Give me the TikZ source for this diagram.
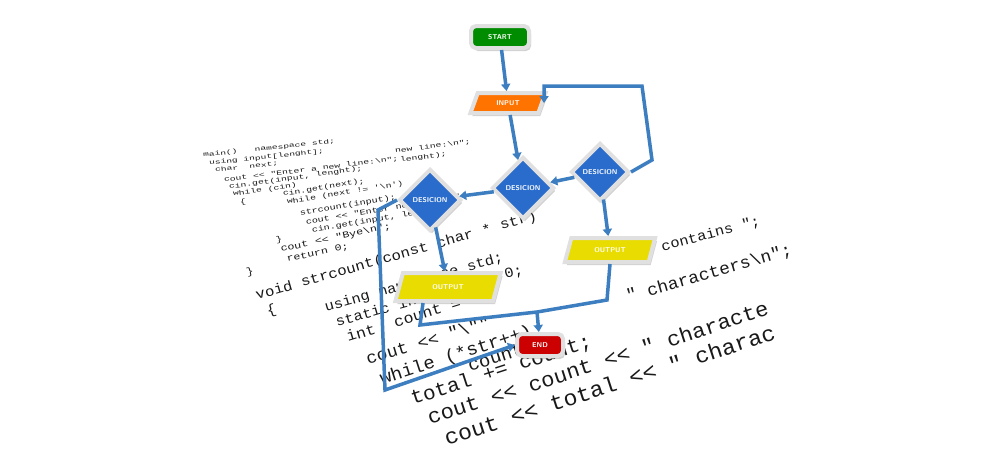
\documentclass[tikz,border=0pt]{standalone}
\usepackage{fontspec}
\setmainfont{Liberation Sans}
\setmonofont{Liberation Mono}
\usetikzlibrary{shapes.geometric,shadows,arrows.meta}
\definecolor{lineblue}{HTML}{3C7EC0}
\definecolor{dblue}{HTML}{2A6CCB}
\begin{document}
\begin{tikzpicture}[x=1pt,y=-1pt,
  code/.style={anchor=base west,inner sep=0,text=black!90},
  frame/.style={draw=white!88!black,line width=4pt,drop shadow={opacity=0.35,shadow xshift=2pt,shadow yshift=-3pt},font=\sffamily\bfseries\fontsize{7}{8}\selectfont,text=white},
  flow/.style={draw=lineblue,line width=3.5pt,-{Triangle[length=7pt,width=9pt]}},
  flown/.style={draw=lineblue,line width=3.5pt}]
\useasboundingbox (0,0) rectangle (990,450);
\fill[white] (0,0) rectangle (990,450);
% code
\def\cl#1#2#3#4#5#6{\node[code,rotate=#3,xscale=#5,font=\ttfamily\fontsize{#4}{#4}\selectfont] at (#1,#2) {#6};}
\cl{203}{157}{6}{6}{1.6}{main()\ \ \ namespace std;}
\cl{209}{165}{6}{6}{1.6}{using input[lenght];}
\cl{215}{172}{6}{6}{1.6}{char\ \ next;}
\cl{395}{153}{7}{6.5}{1.5}{new line:\textbackslash n";}
\cl{400}{162}{7}{6.5}{1.5}{lenght);}
\cl{224}{182}{7}{6.5}{1.5}{cout << "Enter a new line:\textbackslash n";}
\cl{229}{189}{8}{6.5}{1.5}{cin.get(input, lenght);}
\cl{233}{196}{8}{6.5}{1.5}{while (cin)}
\cl{240}{205}{8}{7}{1.4}{\{}
\cl{283}{196}{9}{7}{1.4}{cin.get(next);}
\cl{287}{204}{9}{7}{1.4}{while (next != '\textbackslash n')}
\cl{300}{216}{10}{7.5}{1.35}{strcount(input);}
\cl{306}{225}{10}{7.5}{1.35}{cout << "Enter next line";}
\cl{312}{233}{10}{7.5}{1.35}{cin.get(input, lenght);}
\cl{276}{243}{11}{8}{1.3}{\}}
\cl{281}{252}{12}{9}{1.3}{cout << "Bye\textbackslash n";}
\cl{287}{262}{12}{9}{1.3}{return 0;}
\cl{247}{276}{14}{10}{1.2}{\}}
\cl{257}{300}{16}{14}{1.12}{void strcount(const char * str)}
\cl{268}{316}{16}{14}{1.1}{\{}
\cl{326}{312}{16}{14}{1.1}{using namespace std;}
\cl{337}{327}{16}{14}{1.1}{static int total = 0;}
\cl{348}{342}{17}{15}{1.1}{int\ \ count = 0;}
\cl{600}{268}{15}{14}{1.1}{<<"\textbackslash"\ \ contains ";}
\cl{368}{365}{17}{17}{1.05}{cout << "\textbackslash""}
\cl{382}{385}{18}{18}{1.05}{while (*str++)}
\cl{470}{372}{18}{18}{1.05}{count++;}
\cl{628}{302}{16}{17}{1.05}{" characters\textbackslash n";}
\cl{413}{405}{18}{20}{1.05}{total += count;}
\cl{430}{425}{18}{21}{1.05}{cout << count << " characte}
\cl{447}{446}{18}{22}{1.05}{cout << total << " charac}
% flowchart nodes
\node[frame,fill=green!55!black,rounded corners=5pt,minimum width=58pt,minimum height=22pt] (start) at (500,37) {START};
\node[frame,fill=orange!90!red,trapezium,trapezium left angle=70,trapezium right angle=110,minimum width=52pt,minimum height=20pt,inner sep=2pt] (input) at (508,103) {INPUT};
\node[frame,fill=dblue,diamond,minimum size=62pt,inner sep=0pt] (d1) at (430,200) {DESICION};
\node[frame,fill=dblue,diamond,minimum size=62pt,inner sep=0pt] (d2) at (523,188) {DESICION};
\node[frame,fill=dblue,diamond,minimum size=58pt,inner sep=0pt] (d3) at (600,172) {DESICION};
\node[frame,fill=yellow!80!olive,trapezium,trapezium left angle=75,trapezium right angle=105,minimum width=56pt,minimum height=28pt] (o1) at (448,287) {OUTPUT};
\node[frame,fill=yellow!80!olive,trapezium,trapezium left angle=75,trapezium right angle=105,minimum width=48pt,minimum height=24pt] (o2) at (610,250) {OUTPUT};
\node[frame,fill=red!80!black,rounded corners=5pt,minimum width=46pt,minimum height=22pt] (end) at (540,345) {END};
% connectors
\draw[flow] (start) -- (input);
\draw[flow] (input) -- (d2);
\draw[flow] (d2) -- (d1);
\draw[flow] (d3) -- (d2);
\coordinate (r1) at (652,160);
\coordinate (r2) at (642,86);
\draw[flow] (d3.east) -- (r1) -- (r2) -- (input.east |- r2) -- (input.east);
\draw[flow] (d3) -- (o2);
\draw[flow] (d1) -- (o1);
\coordinate (l1) at (378,210);
\coordinate (l2) at (385,390);
\draw[flow] (d1.west) -- (l1) -- (l2) -- (end.west);
\coordinate (j1) at (420,325);
\coordinate (j2) at (607,300);
\coordinate (jm) at (537,312);
\draw[flown] (o1.south) ++(-25,0) -- (j1) -- (jm) -- (j2) -- (o2.south);
\draw[flow] (jm) -- (end);
\end{tikzpicture}
\end{document}
